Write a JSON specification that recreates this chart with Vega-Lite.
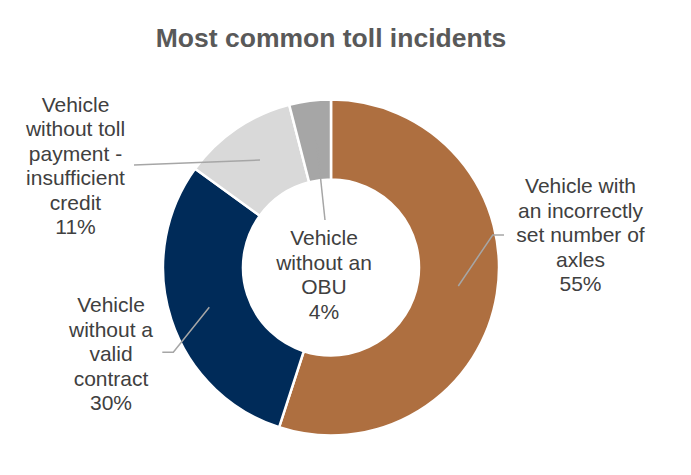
{
  "$schema": "https://vega.github.io/schema/vega-lite/v6.json",
  "width": 662,
  "height": 415,
  "autosize": {"type": "none"},
  "padding": {"left": 0, "top": 60, "right": 29, "bottom": 0},
  "background": "white",
  "config": {"view": {"stroke": null}},
  "title": {
    "text": "Most common toll incidents",
    "font": "Liberation Sans",
    "fontSize": 26.5,
    "fontWeight": "bold",
    "color": "#595959",
    "anchor": "middle",
    "offset": 8
  },
  "datasets": {
    "slices": [
      {"category": "Vehicle with an incorrectly set number of axles", "share": 55, "rank": 1},
      {"category": "Vehicle without a valid contract", "share": 30, "rank": 2},
      {"category": "Vehicle without toll payment - insufficient credit", "share": 11, "rank": 3},
      {"category": "Vehicle without an OBU", "share": 4, "rank": 4}
    ],
    "labels": [
      {"category": "Vehicle with an incorrectly set number of axles", "lines": ["Vehicle with", "an incorrectly", "set number of", "axles", "55%"], "lx": 249.5, "ly": -74.2},
      {"category": "Vehicle without a valid contract", "lines": ["Vehicle", "without a", "valid", "contract", "30%"], "lx": -220, "ly": 44.8},
      {"category": "Vehicle without toll payment - insufficient credit", "lines": ["Vehicle", "without toll", "payment -", "insufficient", "credit", "11%"], "lx": -255.5, "ly": -155.8},
      {"category": "Vehicle without an OBU", "lines": ["Vehicle", "without an", "OBU", "4%"], "lx": -7, "ly": -22.5}
    ],
    "leaders": [
      {"category": "55%", "step": 1, "lx": 127.3, "ly": 18.5},
      {"category": "55%", "step": 2, "lx": 161.7, "ly": -32.5},
      {"category": "55%", "step": 3, "lx": 173, "ly": -32.5},
      {"category": "30%", "step": 1, "lx": -121.7, "ly": 39.8},
      {"category": "30%", "step": 2, "lx": -157.7, "ly": 84.8},
      {"category": "30%", "step": 3, "lx": -168.7, "ly": 84.8},
      {"category": "11%", "step": 1, "lx": -71, "ly": -107.5},
      {"category": "11%", "step": 2, "lx": -197, "ly": -102.5},
      {"category": "4%", "step": 1, "lx": -14.5, "ly": -127.5},
      {"category": "4%", "step": 2, "lx": -6, "ly": -47.5}
    ]
  },
  "layer": [
    {
      "data": {"name": "slices"},
      "mark": {"type": "arc", "radius": 168, "radius2": 88, "stroke": "white", "strokeWidth": 2.5},
      "encoding": {
        "theta": {"field": "share", "type": "quantitative", "stack": true},
        "order": {"field": "rank", "type": "quantitative"},
        "color": {
          "field": "category",
          "type": "nominal",
          "scale": {
            "domain": [
              "Vehicle with an incorrectly set number of axles",
              "Vehicle without a valid contract",
              "Vehicle without toll payment - insufficient credit",
              "Vehicle without an OBU"
            ],
            "range": ["#AE6F40", "#002B59", "#D9D9D9", "#A6A6A6"]
          },
          "legend": null
        }
      }
    },
    {
      "data": {"name": "leaders"},
      "mark": {"type": "line", "color": "#A6A6A6", "strokeWidth": 1.5},
      "encoding": {
        "x": {"field": "lx", "type": "quantitative", "scale": {"domain": [-331, 331]}, "axis": null},
        "y": {"field": "ly", "type": "quantitative", "scale": {"domain": [-207.5, 207.5], "reverse": true}, "axis": null},
        "detail": {"field": "category", "type": "nominal"},
        "order": {"field": "step", "type": "quantitative"}
      }
    },
    {
      "data": {"name": "labels"},
      "mark": {"type": "text", "font": "Liberation Sans", "fontSize": 21, "lineHeight": 24.5, "color": "#404040", "align": "center", "baseline": "alphabetic"},
      "encoding": {
        "x": {"field": "lx", "type": "quantitative", "scale": {"domain": [-331, 331]}, "axis": null},
        "y": {"field": "ly", "type": "quantitative", "scale": {"domain": [-207.5, 207.5], "reverse": true}, "axis": null},
        "text": {"field": "lines"}
      }
    }
  ]
}
